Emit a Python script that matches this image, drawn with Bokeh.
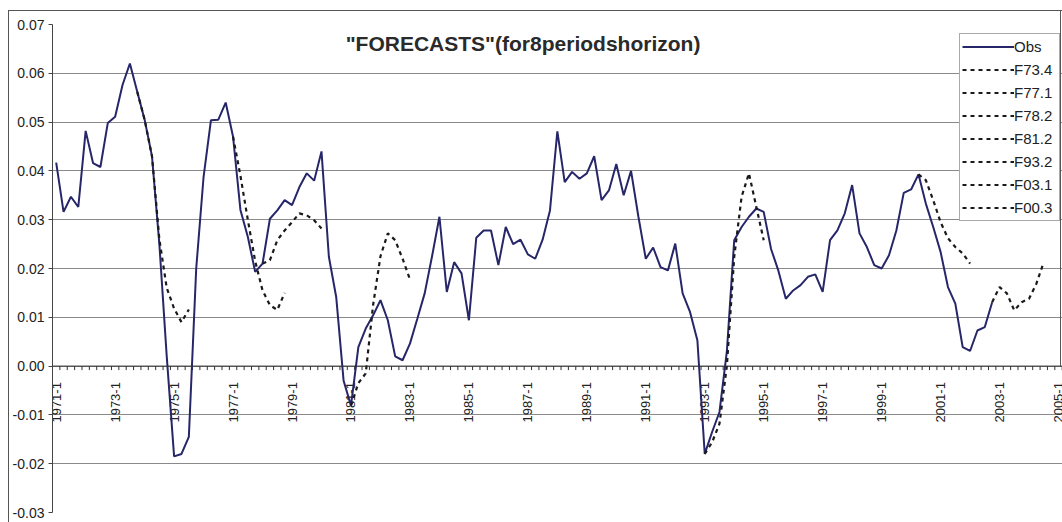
import numpy as np
from math import pi
from bokeh.plotting import figure
from bokeh.models import (FixedTicker, PrintfTickFormatter, Legend, LegendItem,
                          Span, Label, Range1d, InlineStyleSheet)
from bokeh.core.properties import value
from bokeh.embed import file_html
from bokeh.resources import INLINE

# ---------------- data ----------------
quarters = [f"{y}-{q}" for y in range(1971, 2006) for q in range(1, 5)]
tick_labels = [f"{y}-1" for y in range(1971, 2006, 2)]
y_ticks = [-0.03, -0.02, -0.01, 0.0, 0.01, 0.02, 0.03, 0.04, 0.05, 0.06, 0.07]

obs = [0.0417, 0.0316, 0.0347, 0.0326, 0.0482, 0.0416, 0.0408, 0.0498,
       0.0511, 0.0576, 0.0620, 0.0562, 0.0505, 0.0430, 0.0250, 0.0020,
       -0.0185, -0.0180, -0.0145, 0.0200, 0.0388, 0.0504, 0.0505, 0.0540,
       0.0470, 0.0320, 0.0265, 0.0193, 0.0210, 0.0302, 0.0319, 0.0340,
       0.0330, 0.0367, 0.0395, 0.0380, 0.0440, 0.0224, 0.0141, -0.0030,
       -0.0081, 0.0039, 0.0077, 0.0104, 0.0135, 0.0094, 0.0020, 0.0012,
       0.0046, 0.0097, 0.0149, 0.0225, 0.0306, 0.0152, 0.0213, 0.0190,
       0.0094, 0.0263, 0.0278, 0.0278, 0.0207, 0.0285, 0.0250, 0.0259,
       0.0229, 0.0220, 0.0259, 0.0319, 0.0481, 0.0377, 0.0398, 0.0384,
       0.0395, 0.0430, 0.0340, 0.0360, 0.0414, 0.0350, 0.0400, 0.0306,
       0.0220, 0.0243, 0.0203, 0.0196, 0.0251, 0.0149, 0.0111, 0.0053,
       -0.0180, -0.0135, -0.0094, 0.0030, 0.0258, 0.0285, 0.0306, 0.0323,
       0.0316, 0.0240, 0.0195, 0.0138, 0.0155, 0.0166, 0.0183, 0.0188,
       0.0152, 0.0258, 0.0278, 0.0313, 0.0371, 0.0272, 0.0244, 0.0207,
       0.0200, 0.0227, 0.0278, 0.0355, 0.0362, 0.0393, 0.0333, 0.0285,
       0.0234, 0.0162, 0.0128, 0.0039, 0.0031, 0.0073, 0.0080, 0.0131]

f73_4 = [0.0562, 0.0505, 0.0430, 0.0260, 0.0160, 0.0118, 0.0090, 0.0116]
f73_4_start = "1973-4"
f77_1 = [0.0470, 0.0390, 0.0300, 0.0215, 0.0155, 0.0125, 0.0115, 0.0150]
f77_1_start = "1977-1"
f78_2 = [0.0210, 0.0217, 0.0258, 0.0278, 0.0295, 0.0313, 0.0309, 0.0299, 0.0282]
f78_2_start = "1978-1"
f81_2 = [-0.0081, -0.0035, -0.0015, 0.0125, 0.0225, 0.0272, 0.0258, 0.0220, 0.0178]
f81_2_start = "1981-1"
f93_2 = [-0.0180, -0.0156, -0.0118, 0.0000, 0.0224, 0.0347, 0.0395, 0.0326, 0.0258]
f93_2_start = "1993-1"
f03_1 = [0.0131, 0.0162, 0.0149, 0.0114, 0.0131, 0.0138, 0.0169, 0.0213]
f03_1_start = "2002-4"
f00_3 = [0.0393, 0.0381, 0.0340, 0.0295, 0.0262, 0.0244, 0.0231, 0.0210]
f00_3_start = "2000-2"

forecasts = [("F73.4", f73_4, f73_4_start), ("F77.1", f77_1, f77_1_start),
             ("F78.2", f78_2, f78_2_start), ("F81.2", f81_2, f81_2_start),
             ("F93.2", f93_2, f93_2_start), ("F03.1", f03_1, f03_1_start),
             ("F00.3", f00_3, f00_3_start)]

# ---------------- layout constants ----------------
FRAME_W, FRAME_H = 1010, 488
BORDER_L, BORDER_T, BORDER_B = 52, 24, 10
PX_PER_CAT = 7.37
Y0, Y1 = -0.03, 0.07
PX_PER_Y = FRAME_H / (Y1 - Y0)
FONT = "Liberation Sans"

border_css = InlineStyleSheet(css="""
:host { position: relative; }
:host::after {
  content: ""; position: absolute; left: 8px; top: 10px; right: 0px; bottom: 0px;
  border-left: 1px solid #555555; border-top: 1px solid #555555;
  pointer-events: none; z-index: 10;
}
:host::before {
  content: ""; position: absolute; left: 1060px; top: 10px; width: 0px; height: 357px;
  border-left: 1px solid #555555; pointer-events: none; z-index: 10;
}
""")

p = figure(frame_width=FRAME_W, frame_height=FRAME_H,
           min_border_left=BORDER_L, min_border_right=0,
           min_border_top=BORDER_T, min_border_bottom=BORDER_B,
           x_range=Range1d(-0.5, -0.5 + FRAME_W / PX_PER_CAT),
           y_range=Range1d(Y0, Y1),
           x_axis_location=None, y_axis_location="left",
           toolbar_location=None, output_backend="svg",
           stylesheets=[border_css])
p.outline_line_color = None
p.background_fill_color = "white"
p.border_fill_color = "white"

# y axis
ax = p.yaxis[0]
ax.ticker = FixedTicker(ticks=y_ticks)
ax.formatter = PrintfTickFormatter(format="%.2f")
ax.major_label_text_font = FONT
ax.major_label_text_font_size = "14px"
ax.major_label_text_color = "#222222"
ax.major_tick_out = 4
ax.major_tick_in = 0
ax.minor_tick_out = 0
ax.minor_tick_in = 0
ax.axis_line_color = "#444444"
ax.major_tick_line_color = "#444444"
ax.major_label_standoff = 4

p.ygrid.ticker = FixedTicker(ticks=y_ticks)
p.ygrid.grid_line_color = "#8a8a8a"
p.ygrid.grid_line_width = 1
p.xgrid.visible = False

# x axis drawn at y = 0
p.add_layout(Span(location=0, dimension="width", line_color="#333333", line_width=1))
tick_x = np.arange(len(quarters) + 1) - 0.5
p.segment(x0=tick_x, y0=np.zeros_like(tick_x), x1=tick_x,
          y1=np.full_like(tick_x, -4 / PX_PER_Y), line_color="#333333", line_width=1)
lab_x = [quarters.index(t) for t in tick_labels]
p.text(x=lab_x, y=[-16 / PX_PER_Y] * len(lab_x), text=tick_labels, angle=pi / 2,
       text_align="right", text_baseline="middle",
       text_font=value(FONT), text_font_size="13px", text_color="#222222")

# series
items = []
r = p.line(x=list(range(len(obs))), y=obs, line_color="#262669", line_width=2)
items.append(LegendItem(label="Obs", renderers=[r]))
for name, vals, start in forecasts:
    s = quarters.index(start)
    r = p.line(x=list(range(s, s + len(vals))), y=vals, line_color="#1a1a1a",
               line_width=2.2, line_dash="4 4")
    items.append(LegendItem(label=name, renderers=[r]))

legend = Legend(items=items, location=(907, 291), margin=0, padding=2, spacing=2,
                label_height=21, glyph_height=21, glyph_width=52, label_standoff=0,
                label_width=43, label_text_font=FONT, label_text_font_size="15px",
                label_text_color="#222222", border_line_color="#555555",
                border_line_width=1, background_fill_color="white",
                background_fill_alpha=1.0)
p.add_layout(legend)

# title
p.add_layout(Label(x=(522.5 - BORDER_L) / PX_PER_CAT - 0.5,
                   y=Y1 - (43 - BORDER_T) / PX_PER_Y,
                   text='"FORECASTS"(for8periodshorizon)', text_align="center",
                   text_baseline="middle", text_font=FONT, text_font_size="21px",
                   text_font_style="bold", text_color="#2a2a2a"))

open("out.html", "w").write(file_html(p, INLINE))
